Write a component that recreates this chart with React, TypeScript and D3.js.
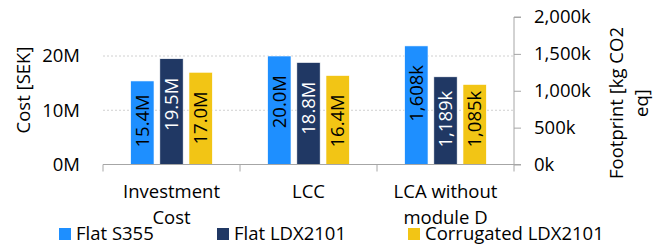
import React, { useEffect, useRef } from "react";
import * as d3 from "d3";

// chart values
const categories = ["Investment Cost", "LCC", "LCA without module D"];
const categoryLines = [["Investment", "Cost"], ["LCC"], ["LCA without", "module D"]];
const series = ["Flat S355", "Flat LDX2101", "Corrugated LDX2101"];
const colors = ["#1e8fff", "#203864", "#f2c515"];
const labelColors = ["#000", "#fff", "#000"];

// cost in million SEK (Investment Cost, LCC)
const investmentCost = [15.4, 19.5, 17.0];
const lccCost = [20.0, 18.8, 16.4];
// footprint in k kg CO2 eq (LCA without module D)
const footprint = [1608, 1189, 1085];

const costTicks = [0, 10, 20];
const footprintTicks = [0, 500, 1000, 1500, 2000];

const FONT = "'Open Sans', 'Noto Sans', sans-serif";
const FS = 18.5;

export default function App() {
    const svgRef = useRef(null);
    const width = 665;
    const height = 246;

    useEffect(() => {
        const svg = d3.select(svgRef.current);
        svg.selectAll("*").remove();

        const plotLeft = 103;
        const plotRight = 514;
        const baseY = 164.5;

        const x = d3.scaleBand().domain(categories).range([plotLeft, plotRight]);
        const x1 = d3.scaleBand().domain(series).range([0, x.bandwidth()]).paddingInner(0.2).paddingOuter(0.95);

        const yCost = d3.scaleLinear().domain([0, 20]).range([baseY, 56]);
        const yFoot = d3.scaleLinear().domain([0, 2000]).range([baseY, 17]);

        const g = svg.append("g").attr("font-family", FONT);

        // dotted gridlines
        g.append("g")
            .selectAll("line")
            .data(costTicks.filter((d) => d > 0))
            .join("line")
            .attr("x1", plotLeft)
            .attr("x2", plotRight)
            .attr("y1", (d) => yCost(d))
            .attr("y2", (d) => yCost(d))
            .attr("stroke", "#d0d0d0")
            .attr("stroke-width", 1)
            .attr("stroke-dasharray", "2,2");

        // left tick labels
        g.append("g")
            .selectAll("text")
            .data(costTicks)
            .join("text")
            .attr("x", 80)
            .attr("y", (d) => yCost(d))
            .attr("dy", "0.35em")
            .attr("text-anchor", "end")
            .attr("font-size", FS)
            .attr("fill", "#000")
            .text((d) => `${d}M`);

        // bars
        const rows = [
            { cat: categories[0], values: investmentCost, scale: yCost, fmt: (v) => `${v.toFixed(1)}M` },
            { cat: categories[1], values: lccCost, scale: yCost, fmt: (v) => `${v.toFixed(1)}M` },
            { cat: categories[2], values: footprint, scale: yFoot, fmt: (v) => `${d3.format(",")(v)}k` },
        ];
        const bars = rows.flatMap((r) =>
            r.values.map((v, i) => ({ cat: r.cat, s: series[i], i, v, top: r.scale(v), label: r.fmt(v) }))
        );

        const bg = g.append("g");
        bg.selectAll("rect")
            .data(bars)
            .join("rect")
            .attr("x", (d) => x(d.cat) + x1(d.s))
            .attr("y", (d) => d.top)
            .attr("width", x1.bandwidth())
            .attr("height", (d) => baseY - d.top)
            .attr("fill", (d) => colors[d.i])
            .attr("stroke", "#fff")
            .attr("stroke-width", 0.6);

        // labels sit near the bar top, but are pushed up so they never run past the bottom padding
        bg.selectAll("text")
            .data(bars)
            .join("text")
            .attr("dy", "0.35em")
            .attr("text-anchor", "start")
            .attr("font-size", FS)
            .attr("fill", (d) => labelColors[d.i])
            .text((d) => d.label)
            .each(function (d) {
                const len = this.getComputedTextLength();
                const bottom = Math.min(d.top + 19 + len, baseY - 17);
                d3.select(this).attr(
                    "transform",
                    `translate(${x(d.cat) + x1(d.s) + x1.bandwidth() / 2},${bottom}) rotate(-90)`
                );
            });

        // x axis
        g.append("g")
            .attr("transform", `translate(0,${baseY})`)
            .call(d3.axisBottom(x).tickSize(0).tickFormat(() => ""))
            .call((a) => a.select(".domain").attr("stroke", "#a6a6a6").attr("d", `M${plotLeft},0H${plotRight}`));
        g.append("g")
            .selectAll("line")
            .data([...categories.map((c) => x(c)), plotRight])
            .join("line")
            .attr("x1", (d) => d)
            .attr("x2", (d) => d)
            .attr("y1", baseY)
            .attr("y2", baseY + 7)
            .attr("stroke", "#a6a6a6");

        // category labels
        g.append("g")
            .selectAll("text")
            .data(categories)
            .join("text")
            .attr("text-anchor", "middle")
            .attr("font-size", FS)
            .attr("fill", "#000")
            .each(function (c, i) {
                d3.select(this)
                    .selectAll("tspan")
                    .data(categoryLines[i])
                    .join("tspan")
                    .attr("x", x(c) + x.bandwidth() / 2)
                    .attr("y", (_, j) => 198 + j * 26)
                    .text((t) => t);
            });

        // right axis
        g.append("g")
            .attr("transform", `translate(${plotRight},0)`)
            .call(d3.axisRight(yFoot).tickValues(footprintTicks).tickSize(7).tickPadding(13).tickFormat((d) => `${d3.format(",")(d)}k`))
            .call((a) => a.select(".domain").attr("stroke", "#a6a6a6").attr("d", `M7,${yFoot(2000)}H0V${baseY}H7`))
            .call((a) => a.selectAll(".tick line").attr("stroke", "#a6a6a6"))
            .call((a) => a.selectAll(".tick text").attr("font-family", FONT).attr("font-size", FS).attr("fill", "#000"));

        // axis titles
        g.append("text")
            .attr("transform", "translate(24,90) rotate(-90)")
            .attr("dy", "0.35em")
            .attr("text-anchor", "middle")
            .attr("font-size", FS)
            .text("Cost [SEK]");

        g.append("text")
            .attr("transform", "translate(617,103) rotate(-90)")
            .attr("text-anchor", "middle")
            .attr("font-size", FS)
            .selectAll("tspan")
            .data(["Footprint [kg CO2", "eq]"])
            .join("tspan")
            .attr("x", 0)
            .attr("y", (_, j) => 6 + j * 25)
            .text((t) => t);

        // legend
        const legendX = [59, 217, 408];
        const lg = g.append("g").selectAll("g").data(series).join("g")
            .attr("transform", (_, i) => `translate(${legendX[i]},228)`);
        lg.append("rect").attr("width", 12).attr("height", 12).attr("fill", (_, i) => colors[i]);
        lg.append("text")
            .attr("x", 17)
            .attr("y", 12)
            .attr("font-size", FS)
            .attr("fill", "#000")
            .text((d) => d);
    }, []);

    return (
        <svg
            ref={svgRef}
            width={width}
            height={height}
            style={{ position: "absolute", left: 0, top: 0, background: "#fff" }}
        />
    );
}
